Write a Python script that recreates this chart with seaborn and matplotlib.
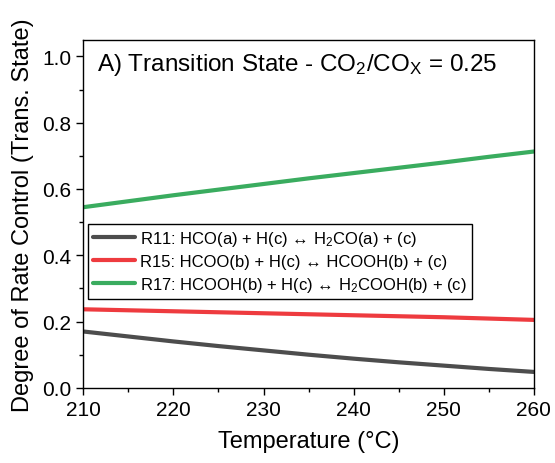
import matplotlib
matplotlib.use('Agg')
import matplotlib.pyplot as plt
import pandas as pd
import seaborn as sns
from matplotlib.ticker import MultipleLocator

# Temperature grid (°C)
temperature = [210, 215, 220, 225, 230, 235, 240, 245, 250, 255, 260]

# Degree of rate control
r11 = [0.170, 0.155, 0.140, 0.126, 0.113, 0.100, 0.088, 0.077, 0.067, 0.057, 0.048]
r15 = [0.237, 0.234, 0.231, 0.228, 0.225, 0.222, 0.219, 0.216, 0.213, 0.209, 0.205]
r17 = [0.545, 0.563, 0.581, 0.598, 0.615, 0.632, 0.648, 0.664, 0.680, 0.697, 0.713]

labels = [
    'R11: HCO(a) + H(c) ↔ H$_2$CO(a) + (c)',
    'R15: HCOO(b) + H(c) ↔ HCOOH(b) + (c)',
    'R17: HCOOH(b) + H(c) ↔ H$_2$COOH(b) + (c)',
]
colors = ['#4d4d4d', '#ee3b3f', '#3aac5f']

rows = []
for lab, vals in zip(labels, [r11, r15, r17]):
    for t, v in zip(temperature, vals):
        rows.append({'Temperature': t, 'DRC': v, 'Reaction': lab})
df = pd.DataFrame(rows)

sns.set_style('ticks')
plt.rcParams['font.family'] = ['Liberation Sans', 'DejaVu Sans']
plt.rcParams['mathtext.fontset'] = 'custom'
plt.rcParams['mathtext.rm'] = 'Liberation Sans'
plt.rcParams['mathtext.it'] = 'Liberation Sans'
plt.rcParams['text.color'] = 'black'
plt.rcParams['axes.labelcolor'] = 'black'

fig = plt.figure(figsize=(5.55, 4.64), dpi=100)
ax = fig.add_axes([0.150, 0.162, 0.812, 0.750])

sns.lineplot(data=df, x='Temperature', y='DRC', hue='Reaction',
             palette=colors, linewidth=3, ax=ax)

ax.set_xlim(210, 260)
ax.set_ylim(0, 1.05)
ax.xaxis.set_major_locator(MultipleLocator(10))
ax.xaxis.set_minor_locator(MultipleLocator(5))
ax.yaxis.set_major_locator(MultipleLocator(0.2))
ax.yaxis.set_minor_locator(MultipleLocator(0.1))
ax.yaxis.set_major_formatter(matplotlib.ticker.FormatStrFormatter('%.1f'))
ax.tick_params(which='major', direction='out', length=5, width=1, labelsize=15,
               colors='black', labelcolor='black')
ax.tick_params(which='minor', direction='out', length=3, width=1, colors='black')
for sp in ax.spines.values():
    sp.set_visible(True)
    sp.set_linewidth(1)
    sp.set_color('black')

ax.set_xlabel('Temperature (°C)', fontsize=17, labelpad=8, color='black')
ax.set_ylabel('Degree of Rate Control (Trans. State)', fontsize=17, labelpad=6, color='black')

ax.text(0.03, 0.93, r'A) Transition State - CO$_2$/CO$_\mathrm{X}$ = 0.25',
        transform=ax.transAxes, fontsize=17.5, va='center', ha='left', color='black')

leg = ax.legend(loc='upper left', bbox_to_anchor=(0.0, 0.485), fontsize=12,
                frameon=True, fancybox=False, handlelength=2.5, handletextpad=0.3,
                borderpad=0.3, labelspacing=0.35, borderaxespad=0.3)
leg.get_frame().set_edgecolor('black')
leg.get_frame().set_linewidth(1)
leg.get_frame().set_alpha(1)
leg.set_title(None)
for txt in leg.get_texts():
    txt.set_color('black')

fig.savefig('out.png', dpi=100)
